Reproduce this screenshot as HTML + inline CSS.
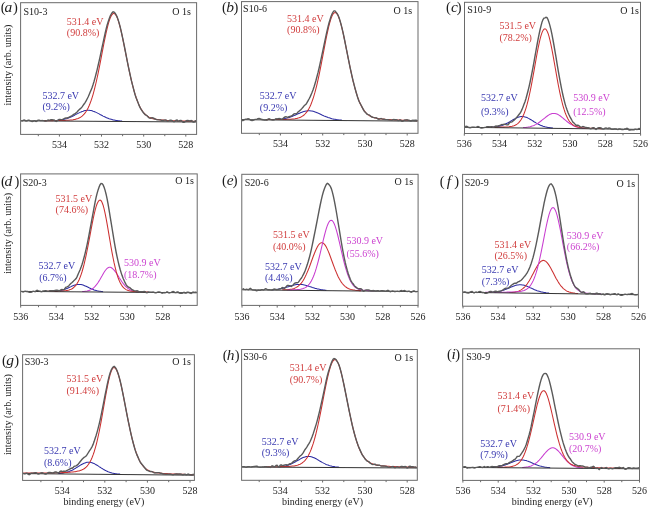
<!DOCTYPE html><html><head><meta charset="utf-8"><title>XPS O 1s spectra</title><style>html,body{margin:0;padding:0;background:#fff;overflow:hidden;}svg{display:block;}text{font-family:"Liberation Serif",serif;}</style></head><body>
<svg width="648" height="508" viewBox="0 0 648 508">
<defs><filter id="b" filterUnits="userSpaceOnUse" x="0" y="0" width="648" height="508"><feGaussianBlur stdDeviation="0.45"/></filter></defs>
<rect width="648" height="508" fill="#fff"/>
<g filter="url(#b)">
<path d="M54.1 120.6 55.1 120.6 56.1 120.5 57.1 120.4 58.1 120.3 59.1 120.2 60.1 120.1 61.1 120 62.1 119.8 63.1 119.6 64.1 119.3 65.1 119.1 66.1 118.8 67.1 118.5 68.1 118.1 69.1 117.8 70.1 117.3 71.1 116.9 72.1 116.4 73.1 116 74.1 115.5 75.1 114.9 76.1 114.4 77.1 113.9 78.1 113.4 79.1 112.9 80.1 112.4 81.1 111.9 82.1 111.5 83.1 111.2 84.1 110.8 85.1 110.6 86.1 110.4 87.1 110.3 88.1 110.3 89.1 110.3 90.1 110.4 91.1 110.6 92.1 110.8 93.1 111.2 94.1 111.5 95.1 111.9 96.1 112.4 97.1 112.9 98.1 113.4 99.1 113.9 100.1 114.5 101.1 115 102.1 115.5 103.1 116.1 104.1 116.6 105.1 117 106.1 117.5 107.1 117.9 108.1 118.3 109.1 118.7 110.1 119 111.1 119.3 112.1 119.6 113.1 119.9 114.1 120.1 115.1 120.3 116.1 120.5 117.1 120.6 118.1 120.7 119.1 120.8 120.1 120.9 121.1 121 122.1 121.1" fill="none" stroke="#2c2ca2" stroke-width="1.05"/><path d="M44.1 120.6 45.1 120.6 46.1 120.6 47.1 120.6 48.1 120.6 49.1 120.6 50.1 120.6 51.1 120.6 52.1 120.6 53.1 120.6 54.1 120.5 55.1 120.5 56.1 120.5 57.1 120.5 58.1 120.5 59.1 120.5 60.1 120.5 61.1 120.5 62.1 120.4 63.1 120.4 64.1 120.4 65.1 120.4 66.1 120.3 67.1 120.3 68.1 120.2 69.1 120.2 70.1 120.1 71.1 120 72.1 119.9 73.1 119.8 74.1 119.6 75.1 119.4 76.1 119.1 77.1 118.8 78.1 118.5 79.1 118 80.1 117.5 81.1 116.9 82.1 116.1 83.1 115.2 84.1 114.1 85.1 112.9 86.1 111.5 87.1 109.8 88.1 107.9 89.1 105.8 90.1 103.3 91.1 100.6 92.1 97.6 93.1 94.3 94.1 90.6 95.1 86.7 96.1 82.5 97.1 78 98.1 73.3 99.1 68.3 100.1 63.3 101.1 58.1 102.1 52.9 103.1 47.6 104.1 42.5 105.1 37.6 106.1 32.9 107.1 28.6 108.1 24.6 109.1 21.2 110.1 18.3 111.1 16.1 112.1 14.5 113.1 13.6 114.1 13.5 115.1 14.1 116.1 15.4 117.1 17.4 118.1 20.1 119.1 23.3 120.1 27 121.1 31.1 122.1 35.6 123.1 40.4 124.1 45.3 125.1 50.3 126.1 55.4 127.1 60.4 128.1 65.3 129.1 70.2 130.1 74.8 131.1 79.2 132.1 83.4 133.1 87.4 134.1 91 135.1 94.4 136.1 97.5 137.1 100.3 138.1 102.9 139.1 105.2 140.1 107.2 141.1 109 142.1 110.6 143.1 112 144.1 113.2 145.1 114.2 146.1 115.1 147.1 115.9 148.1 116.5 149.1 117.1 150.1 117.6 151.1 118 152.1 118.4 153.1 118.7 154.1 118.9 155.1 119.1 156.1 119.3 157.1 119.5 158.1 119.6 159.1 119.8 160.1 119.9 161.1 120 162.1 120.1 163.1 120.1 164.1 120.2 165.1 120.3 166.1 120.3 167.1 120.4 168.1 120.5 169.1 120.5 170.1 120.6 171.1 120.6 172.1 120.7 173.1 120.7 174.1 120.7 175.1 120.8 176.1 120.8 177.1 120.9 178.1 120.9 179.1 120.9 180.1 121 181.1 121 182.1 121 183.1 121.1 184.1 121.1 185.1 121.1 186.1 121.2 187.1 121.2 188.1 121.2 189.1 121.2 190.1 121.3 191.1 121.3 192.1 121.3 193.1 121.3 194.1 121.3 195.1 121.4 196.1 121.4" fill="none" stroke="#cc3030" stroke-width="1.05"/><path d="M21.1 120.8 L196.1 122" stroke="#333" stroke-width="1" fill="none"/><path d="M21.1 120.7 22.1 121 23.1 120.4 24.1 120 25.1 120.5 26.1 121 27.1 120.9 28.1 120.2 29.1 120.1 30.1 120.8 31.1 121.2 32.1 121.5 33.1 121.3 34.1 120.7 35.1 121 36.1 121.5 37.1 120.9 38.1 120.1 39.1 120.1 40.1 120.5 41.1 120.6 42.1 120.5 43.1 120.6 44.1 120.8 45.1 121.1 46.1 121.1 47.1 120.5 48.1 120 49.1 120.1 50.1 120 51.1 119.8 52.1 119.8 53.1 119.9 54.1 120 55.1 120.7 56.1 121.4 57.1 120.8 58.1 120 59.1 119.4 60.1 119.4 61.1 119.6 62.1 119.4 63.1 119.1 64.1 118.7 65.1 118.2 66.1 118 67.1 117.9 68.1 117.8 69.1 117.2 70.1 116.5 71.1 116.1 72.1 115.5 73.1 114.8 74.1 114.2 75.1 113.6 76.1 112.9 77.1 112 78.1 110.8 79.1 109.7 80.1 108.9 81.1 108.1 82.1 106.9 83.1 105.4 84.1 104 85.1 102.6 86.1 100.9 87.1 99 88.1 97 89.1 94.7 90.1 92.3 91.1 89.9 92.1 87.4 93.1 84.5 94.1 81.2 95.1 77.6 96.1 73.8 97.1 69.8 98.1 65.5 99.1 61.2 100.1 56.7 101.1 51.9 102.1 47.2 103.1 42.6 104.1 38 105.1 33.5 106.1 29.2 107.1 25.3 108.1 22 109.1 19 110.1 16.3 111.1 14.3 112.1 12.8 113.1 11.8 114.1 12.1 115.1 13.2 116.1 14.8 117.1 16.8 118.1 19.6 119.1 22.9 120.1 26.6 121.1 30.9 122.1 35.4 123.1 40.1 124.1 44.9 125.1 50 126.1 55.2 127.1 60.4 128.1 65.4 129.1 70.1 130.1 74.7 131.1 79.3 132.1 83.3 133.1 87.2 134.1 91.1 135.1 94.8 136.1 97.7 137.1 100.3 138.1 102.8 139.1 105.4 140.1 107.7 141.1 109.4 142.1 110.8 143.1 112.3 144.1 113.6 145.1 114.6 146.1 115.1 147.1 115.8 148.1 117 149.1 117.9 150.1 118.2 151.1 118 152.1 117.7 153.1 118 154.1 118.5 155.1 119 156.1 119.4 157.1 119.7 158.1 119.9 159.1 119.9 160.1 119.8 161.1 120.1 162.1 120.5 163.1 120.5 164.1 120.2 165.1 119.9 166.1 120.2 167.1 121.1 168.1 121.3 169.1 120.7 170.1 120.2 171.1 120.2 172.1 120.6 173.1 121.3 174.1 121.7 175.1 121.2 176.1 120.2 177.1 120.1 178.1 121.1 179.1 121 180.1 120.5 181.1 120.5 182.1 121.2 183.1 122.3 184.1 122.3 185.1 121.6 186.1 120.9 187.1 120.4 188.1 120.5 189.1 120.8 190.1 120.9 191.1 120.5 192.1 120.9 193.1 122 194.1 122 195.1 121 196.1 120.8" fill="none" stroke="#5a5a5a" stroke-width="1.4"/><rect x="20.6" y="2.7" width="176" height="131.7" fill="none" stroke="#6a6a6a" stroke-width="1"/><path d="M185.8 134.4v2.2" stroke="#6a6a6a" stroke-width="1"/><text x="185.8" y="147.5" font-size="10" text-anchor="middle" fill="#222">528</text><path d="M164.8 134.4v1.8" stroke="#6a6a6a" stroke-width="1"/><path d="M143.7 134.4v2.2" stroke="#6a6a6a" stroke-width="1"/><text x="143.7" y="147.5" font-size="10" text-anchor="middle" fill="#222">530</text><path d="M122.6 134.4v1.8" stroke="#6a6a6a" stroke-width="1"/><path d="M101.5 134.4v2.2" stroke="#6a6a6a" stroke-width="1"/><text x="101.5" y="147.5" font-size="10" text-anchor="middle" fill="#222">532</text><path d="M80.5 134.4v1.8" stroke="#6a6a6a" stroke-width="1"/><path d="M59.4 134.4v2.2" stroke="#6a6a6a" stroke-width="1"/><text x="59.4" y="147.5" font-size="10" text-anchor="middle" fill="#222">534</text><path d="M38.3 134.4v1.8" stroke="#6a6a6a" stroke-width="1"/><text y="12.1" font-size="14.5" fill="#1e1e1e" text-anchor="middle"><tspan x="3.2">(</tspan><tspan x="8.3" font-style="italic" font-size="15.5">a</tspan><tspan x="15.3">)</tspan></text><text x="23.5" y="14.6" font-size="10" fill="#222">S10-3</text><text x="190.9" y="14.7" font-size="10" fill="#222" text-anchor="end">O 1s</text><text x="66.8" y="25.1" font-size="10" fill="#d03c3c">531.4 eV</text><text x="66.8" y="36.3" font-size="10" fill="#d03c3c">(90.8%)</text><text x="42.4" y="98.8" font-size="10" fill="#3838b0">532.7 eV</text><text x="42.4" y="110.3" font-size="10" fill="#3838b0">(9.2%)</text><text font-size="10" fill="#222" text-anchor="middle" transform="translate(11 65) rotate(-90)">intensity (arb. units)</text>
<path d="M276 119.6 277 119.5 278 119.5 279 119.4 280 119.3 281 119.2 282 119.1 283 118.9 284 118.7 285 118.5 286 118.3 287 118.1 288 117.8 289 117.5 290 117.2 291 116.8 292 116.4 293 116 294 115.6 295 115.2 296 114.7 297 114.3 298 113.8 299 113.4 300 113 301 112.6 302 112.2 303 111.8 304 111.5 305 111.2 306 111 307 110.9 308 110.8 309 110.8 310 110.8 311 110.9 312 111.1 313 111.3 314 111.6 315 111.9 316 112.3 317 112.7 318 113.1 319 113.6 320 114 321 114.5 322 115 323 115.4 324 115.9 325 116.3 326 116.7 327 117.1 328 117.5 329 117.8 330 118.1 331 118.4 332 118.7 333 118.9 334 119.2 335 119.3 336 119.5 337 119.7 338 119.8 339 119.9 340 120 341 120.1 342 120.2" fill="none" stroke="#2c2ca2" stroke-width="1.05"/><path d="M266 119.6 267 119.6 268 119.5 269 119.5 270 119.5 271 119.5 272 119.5 273 119.5 274 119.5 275 119.5 276 119.5 277 119.5 278 119.5 279 119.5 280 119.5 281 119.5 282 119.5 283 119.4 284 119.4 285 119.4 286 119.4 287 119.3 288 119.3 289 119.3 290 119.2 291 119.2 292 119.1 293 119 294 118.9 295 118.8 296 118.6 297 118.4 298 118.1 299 117.8 300 117.4 301 117 302 116.4 303 115.8 304 115 305 114 306 112.9 307 111.6 308 110.1 309 108.4 310 106.4 311 104.2 312 101.6 313 98.8 314 95.6 315 92.2 316 88.4 317 84.3 318 79.9 319 75.3 320 70.4 321 65.3 322 60.1 323 54.9 324 49.6 325 44.3 326 39.2 327 34.3 328 29.8 329 25.5 330 21.8 331 18.6 332 16 333 14.1 334 12.9 335 12.5 336 12.8 337 13.8 338 15.6 339 18 340 20.9 341 24.4 342 28.4 343 32.7 344 37.4 345 42.2 346 47.2 347 52.2 348 57.3 349 62.2 350 67.1 351 71.8 352 76.3 353 80.6 354 84.7 355 88.4 356 92 357 95.2 358 98.1 359 100.8 360 103.2 361 105.3 362 107.2 363 108.9 364 110.4 365 111.7 366 112.8 367 113.8 368 114.6 369 115.3 370 116 371 116.5 372 116.9 373 117.3 374 117.6 375 117.9 376 118.1 377 118.4 378 118.5 379 118.7 380 118.8 381 118.9 382 119 383 119.1 384 119.2 385 119.3 386 119.4 387 119.5 388 119.5 389 119.6 390 119.6 391 119.7 392 119.7 393 119.8 394 119.8 395 119.9 396 119.9 397 120 398 120 399 120 400 120.1 401 120.1 402 120.2 403 120.2 404 120.2 405 120.3 406 120.3 407 120.3 408 120.3 409 120.4 410 120.4 411 120.4 412 120.5 413 120.5 414 120.5 415 120.5 416 120.6 417 120.6 417.5 120.6" fill="none" stroke="#cc3030" stroke-width="1.05"/><path d="M242 119.7 L417.5 121.2" stroke="#333" stroke-width="1" fill="none"/><path d="M242 120.5 243 120.5 244 119.9 245 119.3 246 119.1 247 119.1 248 118.7 249 118.8 250 119.8 251 120.4 252 120.5 253 120.3 254 119.8 255 119.4 256 119.4 257 119.2 258 118.7 259 118.4 260 118.7 261 119.3 262 119.5 263 119.7 264 120.1 265 120 266 120 267 120 268 119 269 118.7 270 119.2 271 119.6 272 119.9 273 120 274 119.9 275 119.4 276 118.7 277 118.9 278 118.8 279 118.5 280 118.7 281 119.1 282 119.3 283 118.6 284 117.6 285 117 286 116.7 287 117.1 288 117.2 289 116.6 290 116.4 291 116.3 292 115.7 293 114.7 294 113.9 295 113.8 296 113.9 297 113.2 298 112.1 299 111.2 300 110.4 301 109.5 302 108.4 303 107.2 304 105.9 305 105 306 104.2 307 102.7 308 100.8 309 99 310 97.1 311 94.9 312 92.5 313 89.9 314 87 315 83.7 316 80.3 317 76.5 318 72.7 319 68.5 320 64 321 59.4 322 54.7 323 49.9 324 45.2 325 40.4 326 35.7 327 31.1 328 26.8 329 23 330 19.7 331 16.6 332 14 333 12.1 334 10.9 335 10.9 336 12.1 337 13.3 338 15.1 339 17.6 340 20.6 341 24.2 342 28.2 343 32.3 344 37 345 42 346 47.1 347 52.2 348 57.2 349 62.2 350 67.1 351 71.7 352 76.2 353 80.5 354 84.4 355 88.2 356 91.8 357 95.3 358 98.6 359 101.3 360 103.2 361 105 362 106.9 363 108.9 364 110.9 365 112 366 112.9 367 114.1 368 114.7 369 114.9 370 115.5 371 116.4 372 117 373 117.3 374 117.6 375 117.9 376 117.8 377 118.2 378 119.1 379 119.3 380 118.8 381 118.4 382 118.9 383 119.2 384 119.2 385 119.5 386 119.6 387 119.6 388 119.7 389 119.9 390 120.1 391 120.1 392 120.2 393 119.7 394 119.5 395 119.8 396 119.7 397 119.9 398 120.6 399 120.4 400 119.8 401 120.4 402 121.3 403 121.1 404 120.3 405 120 406 119.9 407 119.8 408 120.1 409 120.3 410 120.6 411 120.9 412 120.4 413 120.2 414 120.5 415 120.3 416 120.2 417 120.5 417.5 120.3" fill="none" stroke="#5a5a5a" stroke-width="1.4"/><rect x="241.5" y="1.6" width="176.5" height="131.7" fill="none" stroke="#6a6a6a" stroke-width="1"/><path d="M407.2 133.3v2.2" stroke="#6a6a6a" stroke-width="1"/><text x="407.2" y="147.4" font-size="10" text-anchor="middle" fill="#222">528</text><path d="M386 133.3v1.8" stroke="#6a6a6a" stroke-width="1"/><path d="M364.9 133.3v2.2" stroke="#6a6a6a" stroke-width="1"/><text x="364.9" y="147.4" font-size="10" text-anchor="middle" fill="#222">530</text><path d="M343.8 133.3v1.8" stroke="#6a6a6a" stroke-width="1"/><path d="M322.7 133.3v2.2" stroke="#6a6a6a" stroke-width="1"/><text x="322.7" y="147.4" font-size="10" text-anchor="middle" fill="#222">532</text><path d="M301.5 133.3v1.8" stroke="#6a6a6a" stroke-width="1"/><path d="M280.4 133.3v2.2" stroke="#6a6a6a" stroke-width="1"/><text x="280.4" y="147.4" font-size="10" text-anchor="middle" fill="#222">534</text><path d="M259.3 133.3v1.8" stroke="#6a6a6a" stroke-width="1"/><text y="12.2" font-size="14.5" fill="#1e1e1e" text-anchor="middle"><tspan x="224.3">(</tspan><tspan x="230" font-style="italic" font-size="15.5">b</tspan><tspan x="235.8">)</tspan></text><text x="243.1" y="12.3" font-size="10" fill="#222">S10-6</text><text x="412.2" y="13.5" font-size="10" fill="#222" text-anchor="end">O 1s</text><text x="287.1" y="22.1" font-size="10" fill="#d03c3c">531.4 eV</text><text x="287.1" y="33.3" font-size="10" fill="#d03c3c">(90.8%)</text><text x="259.8" y="99.2" font-size="10" fill="#3838b0">532.7 eV</text><text x="259.8" y="111" font-size="10" fill="#3838b0">(9.2%)</text>
<path d="M491 127.3 492 127.2 493 127.1 494 127.1 495 127 496 126.8 497 126.7 498 126.5 499 126.3 500 126.1 501 125.8 502 125.5 503 125.1 504 124.7 505 124.3 506 123.8 507 123.3 508 122.8 509 122.2 510 121.6 511 121 512 120.4 513 119.8 514 119.2 515 118.7 516 118.1 517 117.7 518 117.3 519 116.9 520 116.7 521 116.5 522 116.5 523 116.5 524 116.7 525 116.9 526 117.2 527 117.6 528 118.1 529 118.6 530 119.2 531 119.8 532 120.4 533 121 534 121.7 535 122.3 536 122.9 537 123.4 538 124 539 124.5 540 125 541 125.4 542 125.8 543 126.2 544 126.5 545 126.8 546 127 547 127.2 548 127.4 549 127.5 550 127.7 551 127.8 552 127.9 553 128" fill="none" stroke="#2c2ca2" stroke-width="1.05"/><path d="M523 127.6 524 127.5 525 127.5 526 127.4 527 127.2 528 127.1 529 126.9 530 126.7 531 126.4 532 126.1 533 125.8 534 125.4 535 124.9 536 124.4 537 123.8 538 123.2 539 122.5 540 121.8 541 121 542 120.2 543 119.4 544 118.6 545 117.8 546 117 547 116.2 548 115.5 549 114.9 550 114.3 551 113.9 552 113.6 553 113.4 554 113.4 555 113.5 556 113.7 557 114.1 558 114.5 559 115.1 560 115.8 561 116.5 562 117.3 563 118.1 564 119 565 119.8 566 120.7 567 121.5 568 122.3 569 123 570 123.7 571 124.4 572 124.9 573 125.5 574 125.9 575 126.4 576 126.7 577 127 578 127.3 579 127.5 580 127.7 581 127.9 582 128 583 128.2 584 128.3 585 128.3" fill="none" stroke="#c83cd0" stroke-width="1.05"/><path d="M488 127.2 489 127.2 490 127.2 491 127.2 492 127.2 493 127.2 494 127.2 495 127.2 496 127.2 497 127.2 498 127.2 499 127.2 500 127.2 501 127.1 502 127.1 503 127.1 504 127.1 505 127 506 127 507 126.9 508 126.9 509 126.8 510 126.6 511 126.5 512 126.3 513 126 514 125.7 515 125.3 516 124.8 517 124.1 518 123.3 519 122.4 520 121.2 521 119.8 522 118.1 523 116.1 524 113.8 525 111.1 526 108.1 527 104.7 528 100.8 529 96.6 530 92 531 87.1 532 81.9 533 76.4 534 70.8 535 65.1 536 59.5 537 53.9 538 48.7 539 43.8 540 39.4 541 35.7 542 32.6 543 30.4 544 29.1 545 28.8 546 29.3 547 30.9 548 33.2 549 36.4 550 40.4 551 44.9 552 49.9 553 55.2 554 60.8 555 66.5 556 72.2 557 77.8 558 83.3 559 88.5 560 93.3 561 97.9 562 102 563 105.8 564 109.2 565 112.2 566 114.8 567 117.1 568 119 569 120.7 570 122 571 123.2 572 124.2 573 124.9 574 125.6 575 126.1 576 126.5 577 126.8 578 127.1 579 127.3 580 127.5 581 127.6 582 127.8 583 127.9 584 127.9 585 128 586 128.1 587 128.1 588 128.2 589 128.2 590 128.2 591 128.3 592 128.3 593 128.3 594 128.4 595 128.4 596 128.4 597 128.5 598 128.5 599 128.5 600 128.5 601 128.6 602 128.6" fill="none" stroke="#cc3030" stroke-width="1.05"/><path d="M465 127.3 L640 129.4" stroke="#333" stroke-width="1" fill="none"/><path d="M465 127.2 466 126.3 467 126.4 468 127.1 469 127.7 470 127.9 471 127.6 472 127.2 473 127.1 474 127.1 475 127.4 476 127.4 477 127 478 126.6 479 126.9 480 127.7 481 128.1 482 128 483 127.9 484 127.6 485 127.4 486 127.2 487 126.7 488 126.6 489 126.8 490 127 491 126.8 492 126.8 493 127.2 494 127.1 495 126.3 496 126 497 126.2 498 125.9 499 125.7 500 125.5 501 124.8 502 124.5 503 124.6 504 124.3 505 124.2 506 124.7 507 124.9 508 124.8 509 123.5 510 122.3 511 122.1 512 121.9 513 121 514 120.2 515 119.2 516 118.1 517 117 518 115.8 519 114.5 520 113.3 521 111.7 522 109.4 523 106.9 524 104.3 525 101.7 526 98.5 527 94.8 528 91 529 86.9 530 82.5 531 77.7 532 72.7 533 67.4 534 61.8 535 56.1 536 50.5 537 45 538 39.6 539 34.6 540 30 541 25.8 542 22.1 543 19.5 544 18.1 545 17.8 546 17.3 547 17.6 548 19.5 549 22.4 550 25.9 551 29.9 552 34.7 553 40 554 45.5 555 51.3 556 57.2 557 63.4 558 69.4 559 75.1 560 80.6 561 85.9 562 90.9 563 95.5 564 99.7 565 103.6 566 106.9 567 109.8 568 112.4 569 114.8 570 116.9 571 118.7 572 120.5 573 122.2 574 123.1 575 124.1 576 125.3 577 125.3 578 125.2 579 125.9 580 126.6 581 127.1 582 126.9 583 126.5 584 126.8 585 127.2 586 127.4 587 127.6 588 127.7 589 127.9 590 128.6 591 128.7 592 128.2 593 127.7 594 127.7 595 128.7 596 129.3 597 128.6 598 127.9 599 127.8 600 127.7 601 127.9 602 128.6 603 129.1 604 128.8 605 128.1 606 127.9 607 128.4 608 128.5 609 128 610 128.1 611 128.8 612 129.3 613 129.3 614 129 615 128.9 616 129 617 129.4 618 129.6 619 128.9 620 128.9 621 129.4 622 129.5 623 129.6 624 129.4 625 129 626 128.7 627 128.3 628 128.9 629 130 630 130 631 129.8 632 129.8 633 129.8 634 129.7 635 129.3 636 129.3 637 129.6 638 129.1 639 128.6 640 128.8" fill="none" stroke="#5a5a5a" stroke-width="1.4"/><rect x="464.5" y="2.3" width="176" height="131.2" fill="none" stroke="#6a6a6a" stroke-width="1"/><path d="M640.6 133.5v2.2" stroke="#6a6a6a" stroke-width="1"/><text x="640.6" y="147.2" font-size="10" text-anchor="middle" fill="#222">526</text><path d="M623 133.5v1.8" stroke="#6a6a6a" stroke-width="1"/><path d="M605.3 133.5v2.2" stroke="#6a6a6a" stroke-width="1"/><text x="605.3" y="147.2" font-size="10" text-anchor="middle" fill="#222">528</text><path d="M587.7 133.5v1.8" stroke="#6a6a6a" stroke-width="1"/><path d="M570.1 133.5v2.2" stroke="#6a6a6a" stroke-width="1"/><text x="570.1" y="147.2" font-size="10" text-anchor="middle" fill="#222">530</text><path d="M552.5 133.5v1.8" stroke="#6a6a6a" stroke-width="1"/><path d="M534.8 133.5v2.2" stroke="#6a6a6a" stroke-width="1"/><text x="534.8" y="147.2" font-size="10" text-anchor="middle" fill="#222">532</text><path d="M517.2 133.5v1.8" stroke="#6a6a6a" stroke-width="1"/><path d="M499.6 133.5v2.2" stroke="#6a6a6a" stroke-width="1"/><text x="499.6" y="147.2" font-size="10" text-anchor="middle" fill="#222">534</text><path d="M481.9 133.5v1.8" stroke="#6a6a6a" stroke-width="1"/><path d="M464.3 133.5v2.2" stroke="#6a6a6a" stroke-width="1"/><text x="464.3" y="147.2" font-size="10" text-anchor="middle" fill="#222">536</text><text y="12" font-size="14.5" fill="#1e1e1e" text-anchor="middle"><tspan x="448.3">(</tspan><tspan x="454.5" font-style="italic" font-size="15.5">c</tspan><tspan x="459.1">)</tspan></text><text x="467.3" y="13" font-size="10" fill="#222">S10-9</text><text x="638.8" y="14.3" font-size="10" fill="#222" text-anchor="end">O 1s</text><text x="499.4" y="29.3" font-size="10" fill="#d03c3c">531.5 eV</text><text x="499.4" y="40.9" font-size="10" fill="#d03c3c">(78.2%)</text><text x="481" y="101.3" font-size="10" fill="#3838b0">532.7 eV</text><text x="481" y="114.6" font-size="10" fill="#3838b0">(9.3%)</text><text x="573.2" y="101.3" font-size="10" fill="#cc44d0">530.9 eV</text><text x="573.2" y="114.6" font-size="10" fill="#cc44d0">(12.5%)</text>
<path d="M55.1 291.3 56.1 291.2 57.1 291.1 58.1 291 59.1 290.8 60.1 290.7 61.1 290.4 62.1 290.2 63.1 289.9 64.1 289.6 65.1 289.2 66.1 288.8 67.1 288.4 68.1 288 69.1 287.5 70.1 287.1 71.1 286.6 72.1 286.1 73.1 285.7 74.1 285.3 75.1 285 76.1 284.7 77.1 284.5 78.1 284.4 79.1 284.4 80.1 284.4 81.1 284.6 82.1 284.8 83.1 285.1 84.1 285.5 85.1 285.9 86.1 286.3 87.1 286.8 88.1 287.3 89.1 287.8 90.1 288.2 91.1 288.7 92.1 289.1 93.1 289.5 94.1 289.9 95.1 290.2 96.1 290.5 97.1 290.8 98.1 291 99.1 291.2 100.1 291.3 101.1 291.5 102.1 291.6 103.1 291.7" fill="none" stroke="#2c2ca2" stroke-width="1.05"/><path d="M82.1 291.5 83.1 291.5 84.1 291.4 85.1 291.3 86.1 291.2 87.1 291 88.1 290.7 89.1 290.4 90.1 290.1 91.1 289.6 92.1 289 93.1 288.3 94.1 287.4 95.1 286.4 96.1 285.2 97.1 283.9 98.1 282.5 99.1 280.9 100.1 279.2 101.1 277.4 102.1 275.7 103.1 273.9 104.1 272.3 105.1 270.8 106.1 269.5 107.1 268.4 108.1 267.7 109.1 267.3 110.1 267.3 111.1 267.6 112.1 268.2 113.1 269.1 114.1 270.1 115.1 271.4 116.1 272.8 117.1 274.3 118.1 275.9 119.1 277.5 120.1 279 121.1 280.5 122.1 282 123.1 283.4 124.1 284.6 125.1 285.8 126.1 286.8 127.1 287.7 128.1 288.5 129.1 289.1 130.1 289.7 131.1 290.2 132.1 290.6 133.1 290.9 134.1 291.2 135.1 291.4 136.1 291.6 137.1 291.7 138.1 291.8 139.1 291.9 140.1 292" fill="none" stroke="#c83cd0" stroke-width="1.05"/><path d="M47.1 291.2 48.1 291.2 49.1 291.2 50.1 291.2 51.1 291.2 52.1 291.2 53.1 291.2 54.1 291.2 55.1 291.2 56.1 291.2 57.1 291.1 58.1 291.1 59.1 291.1 60.1 291.1 61.1 291 62.1 291 63.1 290.9 64.1 290.8 65.1 290.7 66.1 290.6 67.1 290.4 68.1 290.2 69.1 290 70.1 289.6 71.1 289.2 72.1 288.7 73.1 288 74.1 287.2 75.1 286.2 76.1 284.9 77.1 283.5 78.1 281.7 79.1 279.7 80.1 277.3 81.1 274.6 82.1 271.5 83.1 268 84.1 264.2 85.1 259.9 86.1 255.4 87.1 250.5 88.1 245.4 89.1 240.1 90.1 234.8 91.1 229.4 92.1 224.2 93.1 219.1 94.1 214.5 95.1 210.3 96.1 206.7 97.1 203.8 98.1 201.7 99.1 200.4 100.1 200 101.1 200.7 102.1 202.5 103.1 205.2 104.1 208.9 105.1 213.3 106.1 218.3 107.1 223.8 108.1 229.6 109.1 235.6 110.1 241.5 111.1 247.3 112.1 252.8 113.1 258 114.1 262.9 115.1 267.2 116.1 271.2 117.1 274.7 118.1 277.7 119.1 280.3 120.1 282.5 121.1 284.3 122.1 285.9 123.1 287.1 124.1 288.1 125.1 288.9 126.1 289.6 127.1 290.1 128.1 290.4 129.1 290.7 130.1 291 131.1 291.2 132.1 291.3 133.1 291.4 134.1 291.5 135.1 291.6 136.1 291.7 137.1 291.7 138.1 291.8 139.1 291.8 140.1 291.8 141.1 291.9 142.1 291.9 143.1 291.9 144.1 292 145.1 292 146.1 292 147.1 292 148.1 292.1" fill="none" stroke="#cc3030" stroke-width="1.05"/><path d="M21.1 291.4 L196.7 292.8" stroke="#333" stroke-width="1" fill="none"/><path d="M21.1 291.4 22.1 291.6 23.1 292 24.1 291.7 25.1 291.2 26.1 291.5 27.1 291.5 28.1 291.7 29.1 292.2 30.1 292.1 31.1 292.3 32.1 291.9 33.1 291.2 34.1 291.4 35.1 291.7 36.1 290.9 37.1 290.2 38.1 290.6 39.1 290.9 40.1 291.1 41.1 291.7 42.1 291.5 43.1 291 44.1 290.9 45.1 290.7 46.1 290.7 47.1 291.1 48.1 291.2 49.1 291 50.1 290.7 51.1 290.6 52.1 290.8 53.1 290.8 54.1 290.6 55.1 290.4 56.1 290.3 57.1 290.3 58.1 290.5 59.1 291 60.1 290.5 61.1 289.6 62.1 289.4 63.1 289.8 64.1 289.6 65.1 288.3 66.1 287.1 67.1 286.8 68.1 286.4 69.1 285.4 70.1 284.2 71.1 283.3 72.1 282.5 73.1 281.6 74.1 280.4 75.1 279.5 76.1 278.5 77.1 276.6 78.1 274.2 79.1 272 80.1 269.7 81.1 267.1 82.1 264.3 83.1 260.9 84.1 257.2 85.1 253.3 86.1 249.2 87.1 244.7 88.1 239.7 89.1 234.4 90.1 229 91.1 223.6 92.1 218.2 93.1 212.8 94.1 207.4 95.1 202.2 96.1 197.4 97.1 193.4 98.1 189.9 99.1 187 100.1 184.7 101.1 183.5 102.1 183.6 103.1 184.9 104.1 187.3 105.1 190.4 106.1 194.2 107.1 198.8 108.1 204.1 109.1 210.1 110.1 216.3 111.1 222.4 112.1 228.5 113.1 234.7 114.1 240.9 115.1 246.7 116.1 252 117.1 256.9 118.1 261.4 119.1 265.5 120.1 269.3 121.1 272.6 122.1 275.6 123.1 278.2 124.1 280.5 125.1 282.7 126.1 284.6 127.1 286 128.1 286.9 129.1 287.4 130.1 287.9 131.1 288.9 132.1 289.7 133.1 290.1 134.1 290.7 135.1 290.9 136.1 291 137.1 290.8 138.1 291.1 139.1 291.8 140.1 291.7 141.1 291.6 142.1 291.7 143.1 291.6 144.1 291.4 145.1 291.7 146.1 292.6 147.1 292.7 148.1 292 149.1 292 150.1 292.3 151.1 292.1 152.1 292.1 153.1 292 154.1 292.3 155.1 292.7 156.1 292.8 157.1 292.3 158.1 291.9 159.1 292 160.1 292.1 161.1 292.7 162.1 293.2 163.1 292.8 164.1 292.5 165.1 292.8 166.1 292.4 167.1 291.8 168.1 292.3 169.1 292.9 170.1 292.6 171.1 292.4 172.1 292 173.1 291.6 174.1 292 175.1 292.6 176.1 292.6 177.1 292 178.1 291.9 179.1 292.8 180.1 293.3 181.1 293.4 182.1 293.3 183.1 292.6 184.1 292.3 185.1 293 186.1 293.1 187.1 292.2 188.1 292.1 189.1 292.4 190.1 293.1 191.1 293.4 192.1 292.6 193.1 292.1 194.1 292.4 195.1 292.3 196.1 292.2 196.7 292.7" fill="none" stroke="#5a5a5a" stroke-width="1.4"/><rect x="20.6" y="173.9" width="176.6" height="131.5" fill="none" stroke="#6a6a6a" stroke-width="1"/><path d="M180.4 305.4v1.8" stroke="#6a6a6a" stroke-width="1"/><path d="M162.7 305.4v2.2" stroke="#6a6a6a" stroke-width="1"/><text x="162.7" y="319.5" font-size="10" text-anchor="middle" fill="#222">528</text><path d="M144.9 305.4v1.8" stroke="#6a6a6a" stroke-width="1"/><path d="M127.2 305.4v2.2" stroke="#6a6a6a" stroke-width="1"/><text x="127.2" y="319.5" font-size="10" text-anchor="middle" fill="#222">530</text><path d="M109.5 305.4v1.8" stroke="#6a6a6a" stroke-width="1"/><path d="M91.7 305.4v2.2" stroke="#6a6a6a" stroke-width="1"/><text x="91.7" y="319.5" font-size="10" text-anchor="middle" fill="#222">532</text><path d="M74 305.4v1.8" stroke="#6a6a6a" stroke-width="1"/><path d="M56.2 305.4v2.2" stroke="#6a6a6a" stroke-width="1"/><text x="56.2" y="319.5" font-size="10" text-anchor="middle" fill="#222">534</text><path d="M38.5 305.4v1.8" stroke="#6a6a6a" stroke-width="1"/><path d="M20.7 305.4v2.2" stroke="#6a6a6a" stroke-width="1"/><text x="20.7" y="319.5" font-size="10" text-anchor="middle" fill="#222">536</text><text y="185.5" font-size="14.5" fill="#1e1e1e" text-anchor="middle"><tspan x="3.3">(</tspan><tspan x="8.3" font-style="italic" font-size="15.5">d</tspan><tspan x="17">)</tspan></text><text x="22.8" y="186.2" font-size="10" fill="#222">S20-3</text><text x="193.9" y="183.8" font-size="10" fill="#222" text-anchor="end">O 1s</text><text x="55.6" y="201.6" font-size="10" fill="#d03c3c">531.5 eV</text><text x="55.6" y="213.2" font-size="10" fill="#d03c3c">(74.6%)</text><text x="38.6" y="269.2" font-size="10" fill="#3838b0">532.7 eV</text><text x="39.2" y="280.8" font-size="10" fill="#3838b0">(6.7%)</text><text x="124" y="265.6" font-size="10" fill="#cc44d0">530.9 eV</text><text x="124" y="277.8" font-size="10" fill="#cc44d0">(18.7%)</text><text font-size="10" fill="#222" text-anchor="middle" transform="translate(11 233.3) rotate(-90)">intensity (arb. units)</text>
<path d="M272.3 289.7 273.3 289.7 274.3 289.6 275.3 289.5 276.3 289.4 277.3 289.3 278.3 289.2 279.3 289 280.3 288.8 281.3 288.6 282.3 288.4 283.3 288.1 284.3 287.9 285.3 287.6 286.3 287.3 287.3 287 288.3 286.7 289.3 286.4 290.3 286.1 291.3 285.8 292.3 285.5 293.3 285.2 294.3 285 295.3 284.8 296.3 284.6 297.3 284.5 298.3 284.4 299.3 284.4 300.3 284.4 301.3 284.5 302.3 284.6 303.3 284.8 304.3 285 305.3 285.2 306.3 285.5 307.3 285.8 308.3 286.1 309.3 286.5 310.3 286.8 311.3 287.1 312.3 287.5 313.3 287.8 314.3 288.1 315.3 288.4 316.3 288.6 317.3 288.9 318.3 289.1 319.3 289.3 320.3 289.5 321.3 289.7 322.3 289.8 323.3 290 324.3 290.1 325.3 290.2 326.3 290.3" fill="none" stroke="#2c2ca2" stroke-width="1.05"/><path d="M282.3 289.8 283.3 289.8 284.3 289.8 285.3 289.8 286.3 289.7 287.3 289.7 288.3 289.6 289.3 289.5 290.3 289.3 291.3 289.2 292.3 289 293.3 288.7 294.3 288.4 295.3 287.9 296.3 287.4 297.3 286.8 298.3 286.1 299.3 285.2 300.3 284.2 301.3 283.1 302.3 281.7 303.3 280.2 304.3 278.4 305.3 276.5 306.3 274.4 307.3 272.1 308.3 269.7 309.3 267.2 310.3 264.5 311.3 261.8 312.3 259 313.3 256.3 314.3 253.7 315.3 251.2 316.3 249 317.3 247 318.3 245.3 319.3 244 320.3 243.1 321.3 242.7 322.3 242.7 323.3 243.1 324.3 244.1 325.3 245.4 326.3 247.1 327.3 249.1 328.3 251.4 329.3 253.8 330.3 256.5 331.3 259.2 332.3 262 333.3 264.7 334.3 267.4 335.3 270 336.3 272.4 337.3 274.7 338.3 276.9 339.3 278.8 340.3 280.5 341.3 282.1 342.3 283.5 343.3 284.7 344.3 285.7 345.3 286.6 346.3 287.3 347.3 288 348.3 288.5 349.3 288.9 350.3 289.3 351.3 289.6 352.3 289.8 353.3 290 354.3 290.1 355.3 290.3 356.3 290.4 357.3 290.4 358.3 290.5 359.3 290.6 360.3 290.6 361.3 290.7" fill="none" stroke="#cc3030" stroke-width="1.05"/><path d="M287.3 289.9 288.3 289.9 289.3 289.9 290.3 289.9 291.3 289.9 292.3 289.8 293.3 289.8 294.3 289.8 295.3 289.7 296.3 289.7 297.3 289.6 298.3 289.5 299.3 289.4 300.3 289.3 301.3 289.1 302.3 288.8 303.3 288.5 304.3 288.1 305.3 287.6 306.3 287 307.3 286.2 308.3 285.2 309.3 284 310.3 282.6 311.3 281 312.3 279 313.3 276.8 314.3 274.2 315.3 271.4 316.3 268.2 317.3 264.7 318.3 261 319.3 257 320.3 252.8 321.3 248.6 322.3 244.3 323.3 240 324.3 236 325.3 232.1 326.3 228.7 327.3 225.7 328.3 223.3 329.3 221.6 330.3 220.5 331.3 220.2 332.3 220.7 333.3 222 334.3 224 335.3 226.6 336.3 229.8 337.3 233.5 338.3 237.5 339.3 241.8 340.3 246.2 341.3 250.6 342.3 254.9 343.3 259.1 344.3 263.1 345.3 266.8 346.3 270.2 347.3 273.3 348.3 276.1 349.3 278.5 350.3 280.7 351.3 282.5 352.3 284 353.3 285.3 354.3 286.4 355.3 287.3 356.3 288 357.3 288.5 358.3 289 359.3 289.4 360.3 289.6 361.3 289.9 362.3 290.1 363.3 290.2 364.3 290.3 365.3 290.4 366.3 290.5 367.3 290.5 368.3 290.6 369.3 290.6 370.3 290.7 371.3 290.7 372.3 290.7 373.3 290.8 374.3 290.8" fill="none" stroke="#c83cd0" stroke-width="1.05"/><path d="M242.3 289.8 L417.6 291.6" stroke="#333" stroke-width="1" fill="none"/><path d="M242.3 289.5 243.3 288.9 244.3 289.4 245.3 289.6 246.3 289.3 247.3 289.4 248.3 289.7 249.3 289.1 250.3 288.4 251.3 289 252.3 289.9 253.3 290.1 254.3 290.1 255.3 290.2 256.3 290.8 257.3 290.6 258.3 290.2 259.3 290.4 260.3 290.4 261.3 289.8 262.3 289.7 263.3 290.1 264.3 289.7 265.3 288.8 266.3 288.9 267.3 289.6 268.3 289.8 269.3 289.8 270.3 289.9 271.3 290 272.3 290 273.3 289.3 274.3 289 275.3 289.3 276.3 289.5 277.3 289.6 278.3 289.4 279.3 288.9 280.3 288.8 281.3 288.4 282.3 287.6 283.3 287.8 284.3 288.4 285.3 287.8 286.3 286.4 287.3 285.4 288.3 285.4 289.3 285.6 290.3 286 291.3 286.4 292.3 285.7 293.3 284.7 294.3 283.6 295.3 283 296.3 282.7 297.3 282.7 298.3 282.3 299.3 280.8 300.3 279.4 301.3 278.3 302.3 276.5 303.3 274.6 304.3 272.7 305.3 270.2 306.3 267.4 307.3 264.6 308.3 261.3 309.3 257.7 310.3 253.8 311.3 249.6 312.3 244.9 313.3 240 314.3 235 315.3 230.1 316.3 225 317.3 219.8 318.3 214.6 319.3 209.5 320.3 204.5 321.3 199.8 322.3 195.6 323.3 192 324.3 189 325.3 186.5 326.3 184.5 327.3 183.4 328.3 183.9 329.3 184.9 330.3 186.3 331.3 188.6 332.3 191.9 333.3 195.9 334.3 200.6 335.3 205.8 336.3 211.5 337.3 217.5 338.3 223.6 339.3 229.7 340.3 235.9 341.3 242 342.3 247.8 343.3 253.1 344.3 258.1 345.3 262.7 346.3 266.8 347.3 270.4 348.3 273.7 349.3 276.6 350.3 279.3 351.3 281.5 352.3 282.9 353.3 284 354.3 285.6 355.3 286.7 356.3 287.3 357.3 288.2 358.3 288.8 359.3 288.8 360.3 288.8 361.3 289 362.3 290 363.3 291.1 364.3 290.8 365.3 290.2 366.3 289.9 367.3 289.9 368.3 289.9 369.3 290.2 370.3 290.6 371.3 290.8 372.3 290.7 373.3 290.5 374.3 290.8 375.3 291 376.3 291 377.3 290.7 378.3 290.7 379.3 291.1 380.3 290.9 381.3 290.6 382.3 290.6 383.3 290.8 384.3 290.9 385.3 291.1 386.3 291.1 387.3 290.5 388.3 290.4 389.3 291.1 390.3 291.7 391.3 291.3 392.3 290.9 393.3 291.2 394.3 291.5 395.3 291.5 396.3 291.4 397.3 291.2 398.3 291.4 399.3 291.6 400.3 291 401.3 290.6 402.3 291 403.3 291 404.3 290.5 405.3 290.8 406.3 291.4 407.3 291.5 408.3 291.2 409.3 291.1 410.3 291.9 411.3 292.3 412.3 291.6 413.3 290.9 414.3 291 415.3 291.6 416.3 291.6 417.3 291.5 417.6 292" fill="none" stroke="#5a5a5a" stroke-width="1.4"/><rect x="241.8" y="174.3" width="176.3" height="131.1" fill="none" stroke="#6a6a6a" stroke-width="1"/><path d="M418 305.4v2.2" stroke="#6a6a6a" stroke-width="1"/><text x="418" y="319.5" font-size="10" text-anchor="middle" fill="#222">526</text><path d="M400.4 305.4v1.8" stroke="#6a6a6a" stroke-width="1"/><path d="M382.8 305.4v2.2" stroke="#6a6a6a" stroke-width="1"/><text x="382.8" y="319.5" font-size="10" text-anchor="middle" fill="#222">528</text><path d="M365.2 305.4v1.8" stroke="#6a6a6a" stroke-width="1"/><path d="M347.6 305.4v2.2" stroke="#6a6a6a" stroke-width="1"/><text x="347.6" y="319.5" font-size="10" text-anchor="middle" fill="#222">530</text><path d="M330 305.4v1.8" stroke="#6a6a6a" stroke-width="1"/><path d="M312.4 305.4v2.2" stroke="#6a6a6a" stroke-width="1"/><text x="312.4" y="319.5" font-size="10" text-anchor="middle" fill="#222">532</text><path d="M294.8 305.4v1.8" stroke="#6a6a6a" stroke-width="1"/><path d="M277.2 305.4v2.2" stroke="#6a6a6a" stroke-width="1"/><text x="277.2" y="319.5" font-size="10" text-anchor="middle" fill="#222">534</text><path d="M259.6 305.4v1.8" stroke="#6a6a6a" stroke-width="1"/><path d="M242 305.4v2.2" stroke="#6a6a6a" stroke-width="1"/><text x="242" y="319.5" font-size="10" text-anchor="middle" fill="#222">536</text><text y="184.7" font-size="14.5" fill="#1e1e1e" text-anchor="middle"><tspan x="224.4">(</tspan><tspan x="230.2" font-style="italic" font-size="15.5">e</tspan><tspan x="235.1">)</tspan></text><text x="244.8" y="185.8" font-size="10" fill="#222">S20-6</text><text x="413.2" y="185.1" font-size="10" fill="#222" text-anchor="end">O 1s</text><text x="273" y="238" font-size="10" fill="#d03c3c">531.5 eV</text><text x="273" y="249.9" font-size="10" fill="#d03c3c">(40.0%)</text><text x="346.4" y="244.3" font-size="10" fill="#cc44d0">530.9 eV</text><text x="346.4" y="257.2" font-size="10" fill="#cc44d0">(55.6%)</text><text x="265" y="269.5" font-size="10" fill="#3838b0">532.7 eV</text><text x="265" y="281.3" font-size="10" fill="#3838b0">(4.4%)</text>
<path d="M491.1 292.3 492.1 292.3 493.1 292.2 494.1 292.1 495.1 292 496.1 291.9 497.1 291.8 498.1 291.6 499.1 291.4 500.1 291.2 501.1 290.9 502.1 290.6 503.1 290.3 504.1 290 505.1 289.6 506.1 289.2 507.1 288.8 508.1 288.4 509.1 288 510.1 287.6 511.1 287.1 512.1 286.7 513.1 286.3 514.1 285.9 515.1 285.6 516.1 285.3 517.1 285.1 518.1 284.9 519.1 284.8 520.1 284.8 521.1 284.8 522.1 284.9 523.1 285.1 524.1 285.3 525.1 285.6 526.1 286 527.1 286.3 528.1 286.8 529.1 287.2 530.1 287.7 531.1 288.1 532.1 288.6 533.1 289 534.1 289.5 535.1 289.9 536.1 290.3 537.1 290.7 538.1 291 539.1 291.3 540.1 291.6 541.1 291.9 542.1 292.1 543.1 292.3 544.1 292.5 545.1 292.6 546.1 292.8 547.1 292.9 548.1 293 549.1 293.1" fill="none" stroke="#2c2ca2" stroke-width="1.05"/><path d="M509.1 292.6 510.1 292.5 511.1 292.5 512.1 292.4 513.1 292.3 514.1 292.2 515.1 292 516.1 291.8 517.1 291.6 518.1 291.3 519.1 290.9 520.1 290.4 521.1 289.9 522.1 289.2 523.1 288.4 524.1 287.5 525.1 286.5 526.1 285.3 527.1 284 528.1 282.5 529.1 281 530.1 279.3 531.1 277.5 532.1 275.6 533.1 273.7 534.1 271.8 535.1 269.8 536.1 268 537.1 266.3 538.1 264.7 539.1 263.3 540.1 262.1 541.1 261.2 542.1 260.7 543.1 260.4 544.1 260.5 545.1 260.9 546.1 261.6 547.1 262.6 548.1 263.9 549.1 265.4 550.1 267 551.1 268.8 552.1 270.7 553.1 272.6 554.1 274.6 555.1 276.5 556.1 278.4 557.1 280.1 558.1 281.8 559.1 283.4 560.1 284.8 561.1 286.1 562.1 287.2 563.1 288.3 564.1 289.2 565.1 289.9 566.1 290.6 567.1 291.2 568.1 291.6 569.1 292 570.1 292.3 571.1 292.6 572.1 292.8 573.1 293 574.1 293.1 575.1 293.3 576.1 293.4 577.1 293.4 578.1 293.5" fill="none" stroke="#cc3030" stroke-width="1.05"/><path d="M485.1 292.2 486.1 292.3 487.1 292.3 488.1 292.3 489.1 292.3 490.1 292.3 491.1 292.3 492.1 292.3 493.1 292.3 494.1 292.3 495.1 292.3 496.1 292.3 497.1 292.2 498.1 292.2 499.1 292.2 500.1 292.2 501.1 292.2 502.1 292.2 503.1 292.2 504.1 292.2 505.1 292.2 506.1 292.2 507.1 292.1 508.1 292.1 509.1 292.1 510.1 292.1 511.1 292.1 512.1 292 513.1 292 514.1 291.9 515.1 291.9 516.1 291.8 517.1 291.8 518.1 291.7 519.1 291.6 520.1 291.4 521.1 291.3 522.1 291.1 523.1 290.8 524.1 290.5 525.1 290 526.1 289.5 527.1 288.9 528.1 288.1 529.1 287.1 530.1 285.9 531.1 284.5 532.1 282.8 533.1 280.9 534.1 278.5 535.1 275.9 536.1 272.9 537.1 269.5 538.1 265.7 539.1 261.5 540.1 257.1 541.1 252.3 542.1 247.4 543.1 242.3 544.1 237.1 545.1 232 546.1 227 547.1 222.3 548.1 218.1 549.1 214.4 550.1 211.4 551.1 209.2 552.1 207.9 553.1 207.5 554.1 208.1 555.1 209.7 556.1 212.1 557.1 215.4 558.1 219.3 559.1 223.8 560.1 228.7 561.1 233.9 562.1 239.2 563.1 244.6 564.1 249.9 565.1 255 566.1 259.9 567.1 264.4 568.1 268.6 569.1 272.4 570.1 275.7 571.1 278.7 572.1 281.3 573.1 283.5 574.1 285.4 575.1 287 576.1 288.3 577.1 289.3 578.1 290.2 579.1 290.9 580.1 291.5 581.1 291.9 582.1 292.3 583.1 292.5 584.1 292.8 585.1 292.9 586.1 293.1 587.1 293.2 588.1 293.3 589.1 293.4 590.1 293.4 591.1 293.5 592.1 293.5 593.1 293.6 594.1 293.6 595.1 293.6 596.1 293.7 597.1 293.7 598.1 293.7 599.1 293.8 600.1 293.8 601.1 293.8" fill="none" stroke="#c83cd0" stroke-width="1.05"/><path d="M463.1 292.3 L637.9 294.7" stroke="#333" stroke-width="1" fill="none"/><path d="M463.1 292.6 464.1 291.9 465.1 291.9 466.1 292.5 467.1 292.9 468.1 293 469.1 292.8 470.1 292.2 471.1 291.6 472.1 291.5 473.1 292.5 474.1 293 475.1 292.3 476.1 292 477.1 292.4 478.1 292.2 479.1 291.6 480.1 291.4 481.1 292 482.1 292.5 483.1 292.4 484.1 292.6 485.1 293.3 486.1 293.4 487.1 293.2 488.1 292.6 489.1 291.8 490.1 291.4 491.1 291.5 492.1 292 493.1 292.3 494.1 291.6 495.1 291.2 496.1 291.2 497.1 291.7 498.1 291.6 499.1 291.2 500.1 291.1 501.1 290.8 502.1 290.4 503.1 289.8 504.1 289 505.1 288.5 506.1 288.3 507.1 288.1 508.1 287.9 509.1 287.6 510.1 286.6 511.1 285.5 512.1 284.8 513.1 284.1 514.1 283.4 515.1 283.2 516.1 283.2 517.1 282.6 518.1 281.8 519.1 281.5 520.1 281 521.1 280.3 522.1 279.3 523.1 278.1 524.1 276.9 525.1 275.7 526.1 274.4 527.1 272.8 528.1 271 529.1 268.9 530.1 266.5 531.1 263.7 532.1 260.6 533.1 257.2 534.1 253.3 535.1 249.1 536.1 244.6 537.1 239.7 538.1 234.7 539.1 229.5 540.1 224 541.1 218.6 542.1 213.4 543.1 208.3 544.1 203.2 545.1 198.6 546.1 194.5 547.1 190.8 548.1 187.8 549.1 185.7 550.1 184.2 551.1 183.8 552.1 184.9 553.1 186.6 554.1 189.1 555.1 192.5 556.1 196.7 557.1 201.8 558.1 207.4 559.1 213.5 560.1 219.8 561.1 226.3 562.1 232.8 563.1 239.3 564.1 245.5 565.1 251.3 566.1 256.8 567.1 262 568.1 266.6 569.1 270.6 570.1 274.3 571.1 277.6 572.1 280.5 573.1 282.9 574.1 285 575.1 286.8 576.1 287.7 577.1 288.3 578.1 289.1 579.1 290 580.1 291.3 581.1 292.2 582.1 292.4 583.1 291.8 584.1 292.2 585.1 293.3 586.1 293.7 587.1 293.7 588.1 293.7 589.1 293.4 590.1 293.3 591.1 293.6 592.1 293.7 593.1 293.6 594.1 293.9 595.1 294 596.1 293.3 597.1 293.3 598.1 293.7 599.1 293.7 600.1 294 601.1 294.6 602.1 294.3 603.1 294 604.1 294.7 605.1 294.8 606.1 293.9 607.1 293.6 608.1 293.8 609.1 294.2 610.1 294.8 611.1 294.6 612.1 294.1 613.1 294.1 614.1 293.8 615.1 293.8 616.1 294.6 617.1 294.7 618.1 293.9 619.1 294.3 620.1 295 621.1 295.2 622.1 295.2 623.1 294.9 624.1 294.5 625.1 294.2 626.1 294.4 627.1 294.6 628.1 294.3 629.1 294.1 630.1 294.1 631.1 293.7 632.1 293.5 633.1 294 634.1 294.6 635.1 294.8 636.1 294.9 637.1 294.6 637.9 294.4" fill="none" stroke="#5a5a5a" stroke-width="1.4"/><rect x="462.6" y="174.4" width="175.8" height="131.8" fill="none" stroke="#6a6a6a" stroke-width="1"/><path d="M638.5 306.2v2.2" stroke="#6a6a6a" stroke-width="1"/><text x="638.5" y="320.2" font-size="10" text-anchor="middle" fill="#222">526</text><path d="M621 306.2v1.8" stroke="#6a6a6a" stroke-width="1"/><path d="M603.4 306.2v2.2" stroke="#6a6a6a" stroke-width="1"/><text x="603.4" y="320.2" font-size="10" text-anchor="middle" fill="#222">528</text><path d="M585.9 306.2v1.8" stroke="#6a6a6a" stroke-width="1"/><path d="M568.3 306.2v2.2" stroke="#6a6a6a" stroke-width="1"/><text x="568.3" y="320.2" font-size="10" text-anchor="middle" fill="#222">530</text><path d="M550.8 306.2v1.8" stroke="#6a6a6a" stroke-width="1"/><path d="M533.2 306.2v2.2" stroke="#6a6a6a" stroke-width="1"/><text x="533.2" y="320.2" font-size="10" text-anchor="middle" fill="#222">532</text><path d="M515.6 306.2v1.8" stroke="#6a6a6a" stroke-width="1"/><path d="M498.1 306.2v2.2" stroke="#6a6a6a" stroke-width="1"/><text x="498.1" y="320.2" font-size="10" text-anchor="middle" fill="#222">534</text><path d="M480.6 306.2v1.8" stroke="#6a6a6a" stroke-width="1"/><path d="M463 306.2v2.2" stroke="#6a6a6a" stroke-width="1"/><text x="463" y="320.2" font-size="10" text-anchor="middle" fill="#222">536</text><text y="185.7" font-size="14.5" fill="#1e1e1e" text-anchor="middle"><tspan x="442.1">(</tspan><tspan x="448.9" font-style="italic" font-size="15.5">f</tspan><tspan x="456.6">)</tspan></text><text x="464.8" y="186.2" font-size="10" fill="#222">S20-9</text><text x="635.1" y="186.5" font-size="10" fill="#222" text-anchor="end">O 1s</text><text x="494.5" y="247.5" font-size="10" fill="#d03c3c">531.4 eV</text><text x="494.5" y="258.9" font-size="10" fill="#d03c3c">(26.5%)</text><text x="566.8" y="238.8" font-size="10" fill="#cc44d0">530.9 eV</text><text x="566.8" y="250.2" font-size="10" fill="#cc44d0">(66.2%)</text><text x="481.8" y="273.2" font-size="10" fill="#3838b0">532.7 eV</text><text x="481.8" y="284.7" font-size="10" fill="#3838b0">(7.3%)</text>
<path d="M58.1 473.5 59.1 473.5 60.1 473.4 61.1 473.3 62.1 473.2 63.1 473 64.1 472.8 65.1 472.6 66.1 472.4 67.1 472.1 68.1 471.8 69.1 471.5 70.1 471.1 71.1 470.6 72.1 470.2 73.1 469.7 74.1 469.1 75.1 468.5 76.1 467.9 77.1 467.3 78.1 466.6 79.1 466 80.1 465.4 81.1 464.8 82.1 464.2 83.1 463.7 84.1 463.2 85.1 462.9 86.1 462.6 87.1 462.3 88.1 462.2 89.1 462.2 90.1 462.3 91.1 462.5 92.1 462.8 93.1 463.2 94.1 463.6 95.1 464.1 96.1 464.7 97.1 465.3 98.1 465.9 99.1 466.6 100.1 467.2 101.1 467.9 102.1 468.5 103.1 469.1 104.1 469.7 105.1 470.3 106.1 470.8 107.1 471.2 108.1 471.7 109.1 472.1 110.1 472.4 111.1 472.7 112.1 473 113.1 473.2 114.1 473.4 115.1 473.6 116.1 473.7 117.1 473.9 118.1 474 119.1 474.1 120.1 474.1" fill="none" stroke="#2c2ca2" stroke-width="1.05"/><path d="M23.1 473.2 24.1 473.1 25.1 473.1 26.1 473.1 27.1 473.1 28.1 473.1 29.1 473.1 30.1 473.1 31.1 473.1 32.1 473.1 33.1 473.1 34.1 473.1 35.1 473.1 36.1 473.1 37.1 473.1 38.1 473.1 39.1 473.1 40.1 473.1 41.1 473.1 42.1 473.1 43.1 473.1 44.1 473 45.1 473 46.1 473 47.1 473 48.1 473 49.1 473 50.1 473 51.1 472.9 52.1 472.9 53.1 472.9 54.1 472.9 55.1 472.8 56.1 472.8 57.1 472.8 58.1 472.8 59.1 472.7 60.1 472.7 61.1 472.7 62.1 472.6 63.1 472.6 64.1 472.5 65.1 472.5 66.1 472.4 67.1 472.4 68.1 472.3 69.1 472.3 70.1 472.2 71.1 472.1 72.1 472 73.1 471.9 74.1 471.8 75.1 471.7 76.1 471.5 77.1 471.3 78.1 471.1 79.1 470.9 80.1 470.6 81.1 470.2 82.1 469.8 83.1 469.3 84.1 468.7 85.1 468 86.1 467.1 87.1 466.1 88.1 464.8 89.1 463.4 90.1 461.7 91.1 459.7 92.1 457.5 93.1 454.9 94.1 452 95.1 448.7 96.1 445.1 97.1 441.1 98.1 436.7 99.1 432 100.1 426.9 101.1 421.6 102.1 416.1 103.1 410.5 104.1 404.7 105.1 399 106.1 393.4 107.1 388.1 108.1 383.1 109.1 378.6 110.1 374.7 111.1 371.5 112.1 369.2 113.1 367.8 114.1 367.5 115.1 367.9 116.1 369.2 117.1 371.2 118.1 373.9 119.1 377.1 120.1 381 121.1 385.2 122.1 389.8 123.1 394.7 124.1 399.8 125.1 405 126.1 410.1 127.1 415.3 128.1 420.3 129.1 425.2 130.1 429.9 131.1 434.4 132.1 438.6 133.1 442.5 134.1 446.1 135.1 449.4 136.1 452.4 137.1 455.2 138.1 457.6 139.1 459.8 140.1 461.7 141.1 463.4 142.1 464.8 143.1 466.1 144.1 467.2 145.1 468.2 146.1 469 147.1 469.7 148.1 470.2 149.1 470.7 150.1 471.2 151.1 471.5 152.1 471.8 153.1 472.1 154.1 472.3 155.1 472.5 156.1 472.7 157.1 472.8 158.1 472.9 159.1 473 160.1 473.1 161.1 473.2 162.1 473.3 163.1 473.4 164.1 473.5 165.1 473.5 166.1 473.6 167.1 473.6 168.1 473.7 169.1 473.8 170.1 473.8 171.1 473.9 172.1 473.9 173.1 473.9 174.1 474 175.1 474 176.1 474.1 177.1 474.1 178.1 474.1 179.1 474.2 180.1 474.2 181.1 474.2 182.1 474.3 183.1 474.3 184.1 474.3 185.1 474.4 186.1 474.4 187.1 474.4 188.1 474.5 189.1 474.5 190.1 474.5 191.1 474.5 192.1 474.6 193.1 474.6 193.9 474.6" fill="none" stroke="#cc3030" stroke-width="1.05"/><path d="M23.1 473.6 L193.9 475.2" stroke="#333" stroke-width="1" fill="none"/><path d="M23.1 473.2 24.1 473.8 25.1 473.8 26.1 473.2 27.1 473.2 28.1 474.2 29.1 474.7 30.1 474.1 31.1 473.1 32.1 473.1 33.1 473.1 34.1 472.9 35.1 472.8 36.1 472.8 37.1 473.4 38.1 474 39.1 473.8 40.1 473.4 41.1 473 42.1 472.7 43.1 473.1 44.1 473.7 45.1 474 46.1 474 47.1 473.5 48.1 472.7 49.1 472.4 50.1 472.4 51.1 472.6 52.1 473 53.1 472.9 54.1 472.4 55.1 472 56.1 472 57.1 472.3 58.1 472.8 59.1 472.4 60.1 471.4 61.1 471.1 62.1 471.4 63.1 471.3 64.1 471.1 65.1 471.2 66.1 471 67.1 470.5 68.1 469.9 69.1 469.4 70.1 468.8 71.1 468.3 72.1 468.2 73.1 467.6 74.1 466.4 75.1 466.1 76.1 465.9 77.1 465.1 78.1 464.2 79.1 463 80.1 461.7 81.1 460.5 82.1 459.3 83.1 458.2 84.1 457.4 85.1 456.8 86.1 455.9 87.1 454.7 88.1 453 89.1 451.3 90.1 449.9 91.1 448.3 92.1 446.6 93.1 444.4 94.1 441.6 95.1 438.5 96.1 435.5 97.1 432.1 98.1 428.4 99.1 424.4 100.1 420.1 101.1 415.4 102.1 410.4 103.1 405.3 104.1 400.1 105.1 395 106.1 390.1 107.1 385.2 108.1 380.6 109.1 376.4 110.1 372.9 111.1 370.2 112.1 368.3 113.1 367 114.1 366.3 115.1 367.3 116.1 368.7 117.1 370.7 118.1 373.5 119.1 376.9 120.1 380.6 121.1 384.9 122.1 389.6 123.1 394.6 124.1 399.6 125.1 404.8 126.1 410.1 127.1 415.3 128.1 420.4 129.1 425.2 130.1 429.9 131.1 434.3 132.1 438.6 133.1 442.5 134.1 446.3 135.1 449.9 136.1 452.8 137.1 455.1 138.1 457.4 139.1 459.7 140.1 461.8 141.1 463.3 142.1 464.5 143.1 465.6 144.1 467 145.1 468.2 146.1 469.4 147.1 470.3 148.1 470.7 149.1 471.2 150.1 471.5 151.1 471.5 152.1 471.6 153.1 472 154.1 472.9 155.1 473 156.1 472.7 157.1 472.8 158.1 472.6 159.1 472.6 160.1 473.1 161.1 473.3 162.1 473.6 163.1 474 164.1 474 165.1 474.2 166.1 474.3 167.1 474.2 168.1 474.1 169.1 474.3 170.1 474.3 171.1 474.2 172.1 474.6 173.1 474.8 174.1 474.4 175.1 474.2 176.1 474 177.1 474 178.1 474.2 179.1 474 180.1 473.9 181.1 474.2 182.1 474.5 183.1 474.7 184.1 474.4 185.1 474.2 186.1 474.7 187.1 474.6 188.1 474.1 189.1 474.3 190.1 474.9 191.1 475 192.1 474.7 193.1 474.3 193.9 474.1" fill="none" stroke="#5a5a5a" stroke-width="1.4"/><rect x="22.6" y="354.7" width="171.8" height="125.7" fill="none" stroke="#6a6a6a" stroke-width="1"/><path d="M190 480.4v2.2" stroke="#6a6a6a" stroke-width="1"/><text x="190" y="493.6" font-size="10" text-anchor="middle" fill="#222">528</text><path d="M168.7 480.4v1.8" stroke="#6a6a6a" stroke-width="1"/><path d="M147.4 480.4v2.2" stroke="#6a6a6a" stroke-width="1"/><text x="147.4" y="493.6" font-size="10" text-anchor="middle" fill="#222">530</text><path d="M126.1 480.4v1.8" stroke="#6a6a6a" stroke-width="1"/><path d="M104.8 480.4v2.2" stroke="#6a6a6a" stroke-width="1"/><text x="104.8" y="493.6" font-size="10" text-anchor="middle" fill="#222">532</text><path d="M83.5 480.4v1.8" stroke="#6a6a6a" stroke-width="1"/><path d="M62.2 480.4v2.2" stroke="#6a6a6a" stroke-width="1"/><text x="62.2" y="493.6" font-size="10" text-anchor="middle" fill="#222">534</text><path d="M40.9 480.4v1.8" stroke="#6a6a6a" stroke-width="1"/><text y="364.6" font-size="14.5" fill="#1e1e1e" text-anchor="middle"><tspan x="4.5">(</tspan><tspan x="10.2" font-style="italic" font-size="15.5">g</tspan><tspan x="16.6">)</tspan></text><text x="24.7" y="365" font-size="10" fill="#222">S30-3</text><text x="190.9" y="365" font-size="10" fill="#222" text-anchor="end">O 1s</text><text x="66.5" y="381.8" font-size="10" fill="#d03c3c">531.5 eV</text><text x="66.5" y="393.7" font-size="10" fill="#d03c3c">(91.4%)</text><text x="44" y="453.9" font-size="10" fill="#3838b0">532.7 eV</text><text x="44" y="465.9" font-size="10" fill="#3838b0">(8.6%)</text><text font-size="10" fill="#222" text-anchor="middle" transform="translate(11 414.5) rotate(-90)">intensity (arb. units)</text><text x="63.5" y="505.4" font-size="10" fill="#222">binding energy (eV)</text>
<path d="M278.1 466.8 279.1 466.7 280.1 466.7 281.1 466.6 282.1 466.4 283.1 466.3 284.1 466.1 285.1 465.9 286.1 465.7 287.1 465.4 288.1 465.1 289.1 464.8 290.1 464.4 291.1 464 292.1 463.5 293.1 463 294.1 462.5 295.1 462 296.1 461.4 297.1 460.8 298.1 460.2 299.1 459.7 300.1 459.1 301.1 458.5 302.1 458 303.1 457.6 304.1 457.2 305.1 456.9 306.1 456.6 307.1 456.5 308.1 456.4 309.1 456.4 310.1 456.5 311.1 456.7 312.1 457 313.1 457.4 314.1 457.8 315.1 458.3 316.1 458.8 317.1 459.4 318.1 460 319.1 460.6 320.1 461.2 321.1 461.8 322.1 462.4 323.1 462.9 324.1 463.4 325.1 463.9 326.1 464.4 327.1 464.8 328.1 465.1 329.1 465.5 330.1 465.8 331.1 466 332.1 466.3 333.1 466.5 334.1 466.6 335.1 466.8 336.1 466.9 337.1 467 338.1 467.1 339.1 467.2" fill="none" stroke="#2c2ca2" stroke-width="1.05"/><path d="M264.1 466.8 265.1 466.8 266.1 466.8 267.1 466.8 268.1 466.8 269.1 466.8 270.1 466.7 271.1 466.7 272.1 466.7 273.1 466.7 274.1 466.7 275.1 466.7 276.1 466.7 277.1 466.7 278.1 466.7 279.1 466.7 280.1 466.6 281.1 466.6 282.1 466.6 283.1 466.6 284.1 466.6 285.1 466.5 286.1 466.5 287.1 466.5 288.1 466.4 289.1 466.4 290.1 466.3 291.1 466.2 292.1 466.1 293.1 466 294.1 465.9 295.1 465.7 296.1 465.5 297.1 465.3 298.1 465 299.1 464.6 300.1 464.2 301.1 463.6 302.1 463 303.1 462.2 304.1 461.3 305.1 460.3 306.1 459 307.1 457.6 308.1 456 309.1 454.1 310.1 451.9 311.1 449.5 312.1 446.8 313.1 443.9 314.1 440.6 315.1 437 316.1 433.1 317.1 428.9 318.1 424.5 319.1 419.8 320.1 414.9 321.1 409.9 322.1 404.8 323.1 399.6 324.1 394.4 325.1 389.3 326.1 384.4 327.1 379.7 328.1 375.3 329.1 371.3 330.1 367.8 331.1 364.9 332.1 362.5 333.1 360.8 334.1 359.8 335.1 359.5 336.1 360 337.1 361.2 338.1 363.1 339.1 365.6 340.1 368.7 341.1 372.4 342.1 376.5 343.1 380.9 344.1 385.6 345.1 390.5 346.1 395.5 347.1 400.5 348.1 405.5 349.1 410.5 350.1 415.3 351.1 419.9 352.1 424.4 353.1 428.6 354.1 432.5 355.1 436.2 356.1 439.6 357.1 442.8 358.1 445.6 359.1 448.2 360.1 450.5 361.1 452.6 362.1 454.4 363.1 456 364.1 457.5 365.1 458.7 366.1 459.8 367.1 460.7 368.1 461.5 369.1 462.2 370.1 462.8 371.1 463.3 372.1 463.7 373.1 464.1 374.1 464.4 375.1 464.7 376.1 464.9 377.1 465.1 378.1 465.3 379.1 465.4 380.1 465.6 381.1 465.7 382.1 465.8 383.1 465.9 384.1 466 385.1 466.1 386.1 466.1 387.1 466.2 388.1 466.3 389.1 466.3 390.1 466.4 391.1 466.5 392.1 466.5 393.1 466.6 394.1 466.6 395.1 466.6 396.1 466.7 397.1 466.7 398.1 466.8 399.1 466.8 400.1 466.8 401.1 466.9 402.1 466.9 403.1 467 404.1 467 405.1 467 406.1 467 407.1 467.1 408.1 467.1 409.1 467.1 410.1 467.2 411.1 467.2 412.1 467.2 413.1 467.2 414.1 467.3 415.1 467.3 416.1 467.3 416.8 467.3" fill="none" stroke="#cc3030" stroke-width="1.05"/><path d="M242.1 467 L416.8 468" stroke="#333" stroke-width="1" fill="none"/><path d="M242.1 467 243.1 466.6 244.1 466.7 245.1 467.1 246.1 467.3 247.1 467 248.1 466.8 249.1 466.6 250.1 466.9 251.1 467.1 252.1 466.8 253.1 466.6 254.1 466.5 255.1 466.4 256.1 466.2 257.1 466.2 258.1 466.8 259.1 467.1 260.1 467.2 261.1 467.3 262.1 466.9 263.1 467 264.1 467 265.1 466.6 266.1 466.7 267.1 467.1 268.1 467 269.1 467.2 270.1 467.5 271.1 466.7 272.1 465.8 273.1 466.1 274.1 466.8 275.1 466.4 276.1 465.5 277.1 465.3 278.1 466.4 279.1 466.8 280.1 465.4 281.1 464.9 282.1 465.5 283.1 465.5 284.1 465.2 285.1 464.9 286.1 464.7 287.1 464.9 288.1 465 289.1 464.2 290.1 463.6 291.1 463.3 292.1 462.8 293.1 461.9 294.1 461.1 295.1 460.7 296.1 460.3 297.1 459.5 298.1 458.3 299.1 457.1 300.1 456 301.1 455.2 302.1 454.3 303.1 452.9 304.1 451.1 305.1 449.5 306.1 448.2 307.1 446.6 308.1 444.9 309.1 443.4 310.1 441.5 311.1 439.2 312.1 436.8 313.1 434 314.1 430.9 315.1 427.8 316.1 424.6 317.1 421.1 318.1 417.3 319.1 413.2 320.1 408.9 321.1 404.3 322.1 399.8 323.1 395.3 324.1 390.6 325.1 385.9 326.1 381.1 327.1 376.7 328.1 372.9 329.1 369.6 330.1 366.5 331.1 363.5 332.1 361 333.1 359.3 334.1 358.6 335.1 358.9 336.1 359.8 337.1 361.3 338.1 363 339.1 365.3 340.1 368.5 341.1 372.2 342.1 376.4 343.1 380.9 344.1 385.5 345.1 390.5 346.1 395.5 347.1 400.5 348.1 405.5 349.1 410.5 350.1 415.2 351.1 419.9 352.1 424.5 353.1 428.6 354.1 432.5 355.1 436.2 356.1 439.5 357.1 442.6 358.1 445.4 359.1 447.9 360.1 450.1 361.1 452.4 362.1 454.6 363.1 456 364.1 457.4 365.1 459 366.1 460.1 367.1 461.1 368.1 461.4 369.1 461.9 370.1 463.2 371.1 463.7 372.1 464.3 373.1 464.6 374.1 464.2 375.1 464.3 376.1 464.9 377.1 465.3 378.1 465.2 379.1 464.9 380.1 465.5 381.1 466.1 382.1 466 383.1 466 384.1 465.9 385.1 466.1 386.1 466.4 387.1 466.7 388.1 467.2 389.1 467.3 390.1 467.3 391.1 467.1 392.1 466.6 393.1 466.4 394.1 467.3 395.1 467.8 396.1 467.2 397.1 466.7 398.1 467.1 399.1 467.5 400.1 467.1 401.1 466.5 402.1 466.5 403.1 466.6 404.1 466.6 405.1 466.4 406.1 466.9 407.1 467.9 408.1 467.6 409.1 466.5 410.1 466.3 411.1 466.7 412.1 466.7 413.1 466.8 414.1 467.1 415.1 467 416.1 467.5 416.8 467.8" fill="none" stroke="#5a5a5a" stroke-width="1.4"/><rect x="241.6" y="349.5" width="175.7" height="130.8" fill="none" stroke="#6a6a6a" stroke-width="1"/><path d="M407.2 480.3v2.2" stroke="#6a6a6a" stroke-width="1"/><text x="407.2" y="493.6" font-size="10" text-anchor="middle" fill="#222">528</text><path d="M386.1 480.3v1.8" stroke="#6a6a6a" stroke-width="1"/><path d="M364.9 480.3v2.2" stroke="#6a6a6a" stroke-width="1"/><text x="364.9" y="493.6" font-size="10" text-anchor="middle" fill="#222">530</text><path d="M343.8 480.3v1.8" stroke="#6a6a6a" stroke-width="1"/><path d="M322.6 480.3v2.2" stroke="#6a6a6a" stroke-width="1"/><text x="322.6" y="493.6" font-size="10" text-anchor="middle" fill="#222">532</text><path d="M301.4 480.3v1.8" stroke="#6a6a6a" stroke-width="1"/><path d="M280.3 480.3v2.2" stroke="#6a6a6a" stroke-width="1"/><text x="280.3" y="493.6" font-size="10" text-anchor="middle" fill="#222">534</text><path d="M259.2 480.3v1.8" stroke="#6a6a6a" stroke-width="1"/><text y="360.3" font-size="14.5" fill="#1e1e1e" text-anchor="middle"><tspan x="225.1">(</tspan><tspan x="230.6" font-style="italic" font-size="15.5">h</tspan><tspan x="237.2">)</tspan></text><text x="243.2" y="360" font-size="10" fill="#222">S30-6</text><text x="413.2" y="360.9" font-size="10" fill="#222" text-anchor="end">O 1s</text><text x="289.8" y="370.6" font-size="10" fill="#d03c3c">531.4 eV</text><text x="289.8" y="382.8" font-size="10" fill="#d03c3c">(90.7%)</text><text x="261.8" y="444.9" font-size="10" fill="#3838b0">532.7 eV</text><text x="261.8" y="456.1" font-size="10" fill="#3838b0">(9.3%)</text><text x="282.1" y="505.4" font-size="10" fill="#222">binding energy (eV)</text>
<path d="M492.2 467.3 493.2 467.2 494.2 467.2 495.2 467.1 496.2 467 497.2 466.8 498.2 466.7 499.2 466.5 500.2 466.3 501.2 466.1 502.2 465.9 503.2 465.6 504.2 465.3 505.2 465 506.2 464.6 507.2 464.2 508.2 463.8 509.2 463.4 510.2 463 511.2 462.6 512.2 462.2 513.2 461.8 514.2 461.4 515.2 461 516.2 460.7 517.2 460.4 518.2 460.2 519.2 460 520.2 459.9 521.2 459.9 522.2 459.9 523.2 460 524.2 460.2 525.2 460.4 526.2 460.6 527.2 461 528.2 461.3 529.2 461.7 530.2 462.1 531.2 462.6 532.2 463 533.2 463.5 534.2 463.9 535.2 464.3 536.2 464.7 537.2 465.1 538.2 465.4 539.2 465.8 540.2 466.1 541.2 466.3 542.2 466.6 543.2 466.8 544.2 467 545.2 467.2 546.2 467.3 547.2 467.4 548.2 467.5 549.2 467.6 550.2 467.7" fill="none" stroke="#2c2ca2" stroke-width="1.05"/><path d="M522.2 467.5 523.2 467.4 524.2 467.3 525.2 467.2 526.2 467.1 527.2 467 528.2 466.8 529.2 466.5 530.2 466.2 531.2 465.9 532.2 465.4 533.2 464.9 534.2 464.4 535.2 463.7 536.2 462.9 537.2 462.1 538.2 461.1 539.2 460.1 540.2 459 541.2 457.9 542.2 456.7 543.2 455.4 544.2 454.2 545.2 453 546.2 451.9 547.2 450.8 548.2 449.9 549.2 449.1 550.2 448.5 551.2 448 552.2 447.8 553.2 447.8 554.2 448.1 555.2 448.5 556.2 449.1 557.2 450 558.2 450.9 559.2 452 560.2 453.1 561.2 454.4 562.2 455.6 563.2 456.8 564.2 458.1 565.2 459.2 566.2 460.3 567.2 461.4 568.2 462.3 569.2 463.2 570.2 464 571.2 464.7 572.2 465.3 573.2 465.8 574.2 466.2 575.2 466.6 576.2 466.9 577.2 467.2 578.2 467.4 579.2 467.5 580.2 467.7 581.2 467.8 582.2 467.9 583.2 468" fill="none" stroke="#c83cd0" stroke-width="1.05"/><path d="M495.2 467.3 496.2 467.3 497.2 467.3 498.2 467.3 499.2 467.3 500.2 467.2 501.2 467.2 502.2 467.2 503.2 467.2 504.2 467.2 505.2 467.1 506.2 467.1 507.2 467 508.2 467 509.2 466.9 510.2 466.7 511.2 466.6 512.2 466.4 513.2 466.1 514.2 465.8 515.2 465.4 516.2 464.9 517.2 464.3 518.2 463.5 519.2 462.6 520.2 461.5 521.2 460.1 522.2 458.5 523.2 456.7 524.2 454.5 525.2 452.1 526.2 449.3 527.2 446.2 528.2 442.8 529.2 439.1 530.2 435.2 531.2 431 532.2 426.6 533.2 422.1 534.2 417.6 535.2 413.1 536.2 408.8 537.2 404.7 538.2 401 539.2 397.7 540.2 394.9 541.2 392.8 542.2 391.4 543.2 390.7 544.2 390.8 545.2 391.7 546.2 393.3 547.2 395.7 548.2 398.7 549.2 402.1 550.2 406 551.2 410.2 552.2 414.5 553.2 418.9 554.2 423.4 555.2 427.7 556.2 431.9 557.2 436 558.2 439.7 559.2 443.2 560.2 446.4 561.2 449.3 562.2 451.9 563.2 454.2 564.2 456.3 565.2 458 566.2 459.5 567.2 460.8 568.2 461.9 569.2 462.8 570.2 463.6 571.2 464.2 572.2 464.7 573.2 465.2 574.2 465.5 575.2 465.8 576.2 466.1 577.2 466.3 578.2 466.5 579.2 466.6 580.2 466.7 581.2 466.8 582.2 466.9 583.2 467 584.2 467.1 585.2 467.2 586.2 467.2 587.2 467.3 588.2 467.3 589.2 467.4 590.2 467.4 591.2 467.5 592.2 467.5 593.2 467.6 594.2 467.6 595.2 467.7 596.2 467.7 597.2 467.7 598.2 467.8 599.2 467.8 600.2 467.8 601.2 467.9 602.2 467.9 603.2 467.9 604.2 467.9 605.2 468 606.2 468 607.2 468 608.2 468 609.2 468.1 610.2 468.1 611.2 468.1 612.2 468.1 613.2 468.1 614.2 468.2 615.2 468.2 616.2 468.2 617.2 468.2 618.2 468.2 619.2 468.3 620.2 468.3 621.2 468.3 622.2 468.3" fill="none" stroke="#cc3030" stroke-width="1.05"/><path d="M463.2 467.4 L639 468.8" stroke="#333" stroke-width="1" fill="none"/><path d="M463.2 466.9 464.2 466.6 465.2 466.6 466.2 467.4 467.2 468.1 468.2 467.7 469.2 467.8 470.2 467.9 471.2 467.6 472.2 467.4 473.2 467.5 474.2 468 475.2 467.9 476.2 467.4 477.2 467.3 478.2 467.1 479.2 466.8 480.2 466.8 481.2 467.1 482.2 467.5 483.2 467.3 484.2 466.6 485.2 467 486.2 467.3 487.2 466.6 488.2 466.6 489.2 467.3 490.2 467.2 491.2 466.6 492.2 466.4 493.2 466.6 494.2 466.7 495.2 466.8 496.2 467 497.2 466.8 498.2 466.2 499.2 465.8 500.2 465.8 501.2 465.7 502.2 465.3 503.2 464.8 504.2 464.4 505.2 464 506.2 463.6 507.2 463.7 508.2 463.4 509.2 462.7 510.2 462.2 511.2 461.7 512.2 461.1 513.2 460.4 514.2 459.6 515.2 459.1 516.2 457.9 517.2 456.5 518.2 456.4 519.2 456.4 520.2 455.4 521.2 453.8 522.2 452.4 523.2 450.9 524.2 449 525.2 447 526.2 444.5 527.2 441.3 528.2 437.9 529.2 434.5 530.2 430.7 531.2 426.2 532.2 421.1 533.2 416.2 534.2 411.3 535.2 406.2 536.2 401.1 537.2 396.2 538.2 391.4 539.2 387 540.2 382.9 541.2 379.4 542.2 376.6 543.2 374.6 544.2 373.6 545.2 373.4 546.2 373.7 547.2 375.1 548.2 377.4 549.2 380.4 550.2 384.2 551.2 388.5 552.2 392.9 553.2 397.7 554.2 402.8 555.2 407.8 556.2 412.6 557.2 417.6 558.2 422.5 559.2 427.1 560.2 431.4 561.2 435.4 562.2 439.3 563.2 442.9 564.2 446.1 565.2 448.9 566.2 451.5 567.2 453.9 568.2 456 569.2 457.5 570.2 458.7 571.2 460.3 572.2 461.9 573.2 462.8 574.2 463.8 575.2 464.5 576.2 464.8 577.2 465.5 578.2 465.9 579.2 465.8 580.2 465.8 581.2 465.9 582.2 465.9 583.2 466.2 584.2 466.6 585.2 467.1 586.2 467.1 587.2 467.1 588.2 467.7 589.2 468 590.2 467.5 591.2 467.2 592.2 467 593.2 466.4 594.2 466.9 595.2 468.1 596.2 468.5 597.2 468.1 598.2 468.7 599.2 469.5 600.2 468.6 601.2 467.5 602.2 467.9 603.2 468.4 604.2 468.4 605.2 468 606.2 467.6 607.2 468.1 608.2 468.8 609.2 468.7 610.2 468.2 611.2 468.4 612.2 468.7 613.2 468.6 614.2 468.1 615.2 467.8 616.2 467.7 617.2 467.8 618.2 467.6 619.2 467.2 620.2 467.6 621.2 468.2 622.2 467.8 623.2 467.6 624.2 468.4 625.2 469.3 626.2 469.2 627.2 468.3 628.2 467.8 629.2 467.8 630.2 467.9 631.2 468.2 632.2 468.4 633.2 468 634.2 467.9 635.2 468.3 636.2 468.3 637.2 468.1 638.2 467.9 639 467.8" fill="none" stroke="#5a5a5a" stroke-width="1.4"/><rect x="462.7" y="348.8" width="176.8" height="131.6" fill="none" stroke="#6a6a6a" stroke-width="1"/><path d="M639.5 480.4v2.2" stroke="#6a6a6a" stroke-width="1"/><text x="639.5" y="493.6" font-size="10" text-anchor="middle" fill="#222">526</text><path d="M621.8 480.4v1.8" stroke="#6a6a6a" stroke-width="1"/><path d="M604.2 480.4v2.2" stroke="#6a6a6a" stroke-width="1"/><text x="604.2" y="493.6" font-size="10" text-anchor="middle" fill="#222">528</text><path d="M586.5 480.4v1.8" stroke="#6a6a6a" stroke-width="1"/><path d="M568.9 480.4v2.2" stroke="#6a6a6a" stroke-width="1"/><text x="568.9" y="493.6" font-size="10" text-anchor="middle" fill="#222">530</text><path d="M551.2 480.4v1.8" stroke="#6a6a6a" stroke-width="1"/><path d="M533.5 480.4v2.2" stroke="#6a6a6a" stroke-width="1"/><text x="533.5" y="493.6" font-size="10" text-anchor="middle" fill="#222">532</text><path d="M515.9 480.4v1.8" stroke="#6a6a6a" stroke-width="1"/><path d="M498.2 480.4v2.2" stroke="#6a6a6a" stroke-width="1"/><text x="498.2" y="493.6" font-size="10" text-anchor="middle" fill="#222">534</text><path d="M480.6 480.4v1.8" stroke="#6a6a6a" stroke-width="1"/><path d="M462.9 480.4v2.2" stroke="#6a6a6a" stroke-width="1"/><text x="462.9" y="493.6" font-size="10" text-anchor="middle" fill="#222">536</text><text y="358.7" font-size="14.5" fill="#1e1e1e" text-anchor="middle"><tspan x="449.5">(</tspan><tspan x="453.6" font-style="italic" font-size="15.5">i</tspan><tspan x="457.6">)</tspan></text><text x="466.3" y="360" font-size="10" fill="#222">S30-9</text><text x="497.5" y="398.8" font-size="10" fill="#d03c3c">531.4 eV</text><text x="497.5" y="411.6" font-size="10" fill="#d03c3c">(71.4%)</text><text x="480.3" y="446.8" font-size="10" fill="#3838b0">532.7 eV</text><text x="480.3" y="458.4" font-size="10" fill="#3838b0">(7.9%)</text><text x="568.9" y="439.6" font-size="10" fill="#cc44d0">530.9 eV</text><text x="568.9" y="451.9" font-size="10" fill="#cc44d0">(20.7%)</text><text x="511.8" y="505.4" font-size="10" fill="#222">binding energy (eV)</text>
</g></svg></body></html>
